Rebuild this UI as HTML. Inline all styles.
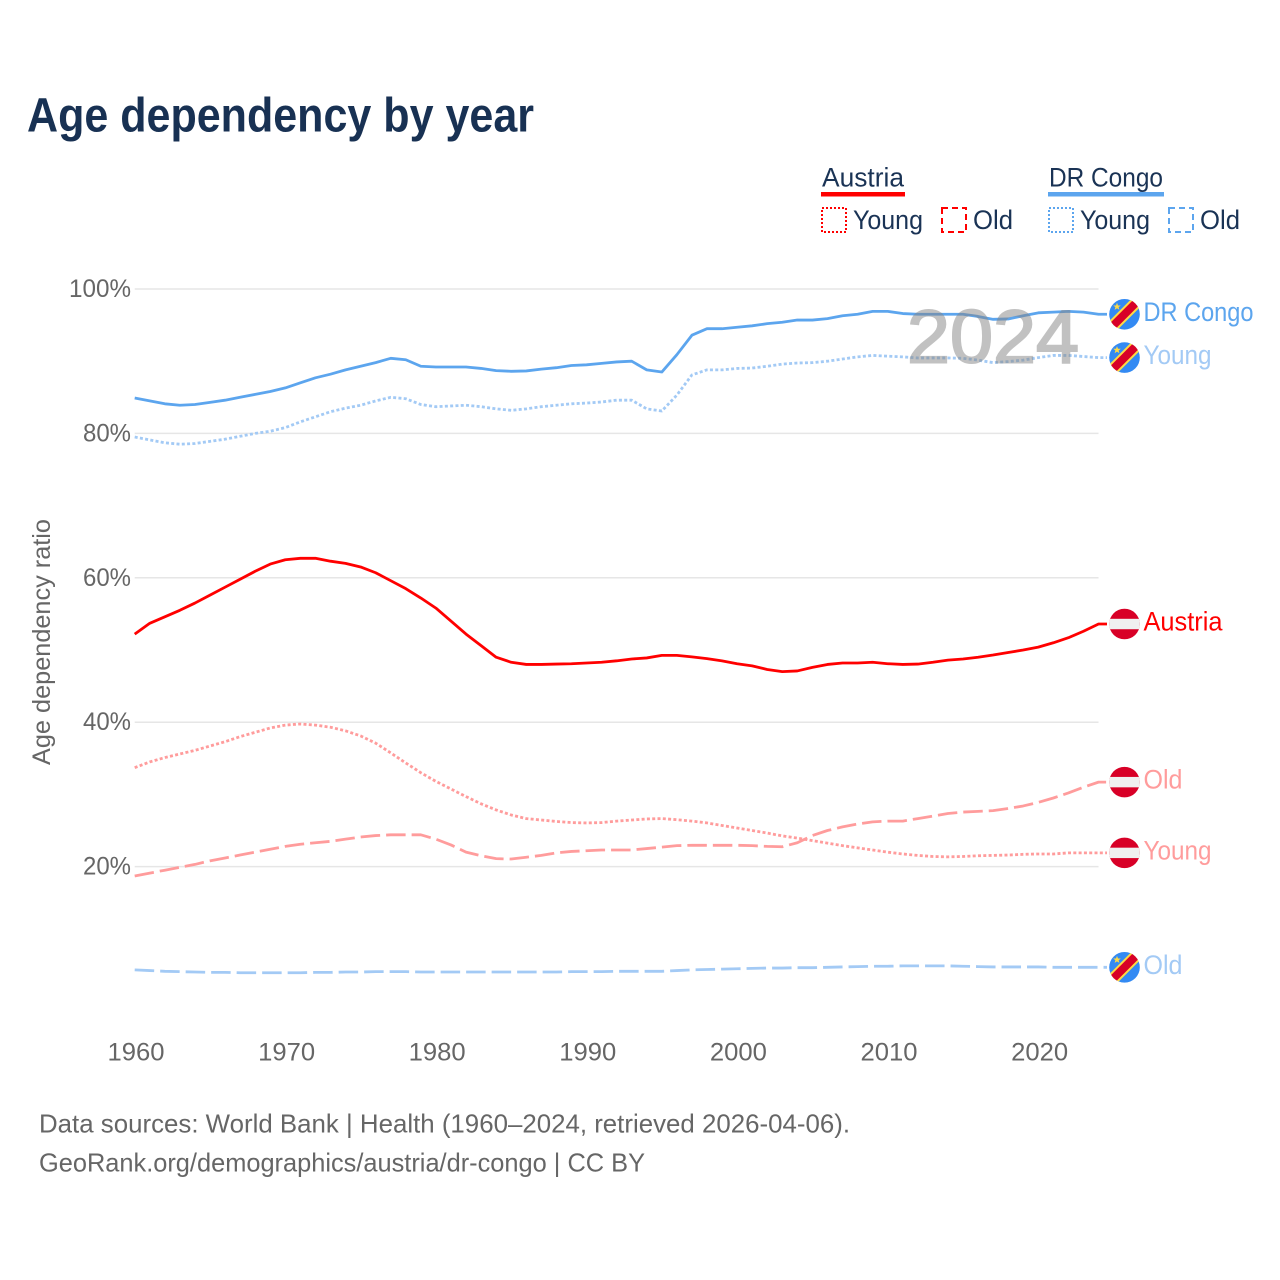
<!DOCTYPE html>
<html lang="en">
<head>
<meta charset="utf-8">
<title>Age dependency by year</title>
<style>
  html, body { margin: 0; padding: 0; background: #fff; }
  svg { display: block; font-family: "Liberation Sans", sans-serif; }
</style>
</head>
<body>
<svg id="chart" xmlns="http://www.w3.org/2000/svg" width="1280" height="1280" viewBox="0 0 1280 1280">
  <defs>
    <clipPath id="flag-clip"><circle cx="0" cy="0" r="15.3"/></clipPath>
    <g id="flag-austria" clip-path="url(#flag-clip)">
      <rect x="-16" y="-16" width="32" height="32" fill="#d80027"/>
      <rect x="-16" y="-5.2" width="32" height="10.4" fill="#f0f0f0"/>
    </g>
    <g id="flag-congo" clip-path="url(#flag-clip)">
      <rect x="-16" y="-16" width="32" height="32" fill="#338af3"/>
      <line x1="-16" y1="16" x2="16" y2="-16" stroke="#ffda44" stroke-width="12"/>
      <line x1="-16" y1="16" x2="16" y2="-16" stroke="#d80027" stroke-width="8"/>
      <polygon points="-7.5,-11.5 -6.5,-8.8 -3.7,-8.8 -5.9,-7.1 -5.1,-4.4 -7.5,-6 -9.9,-4.4 -9.1,-7.1 -11.3,-8.8 -8.5,-8.8" fill="#ffda44"/>
    </g>
  </defs>

  <rect x="0" y="0" width="1280" height="1280" fill="#fff"/>

  <text x="27" y="131.5" font-size="48" font-weight="700" fill="#183153" textLength="507" lengthAdjust="spacingAndGlyphs">Age dependency by year</text>

  <g font-size="26.5" fill="#1a3355">
    <g>
      <text x="822" y="186.5" textLength="82" lengthAdjust="spacingAndGlyphs">Austria</text>
      <rect x="821" y="192" width="84" height="4.5" fill="#ff0000"/>
      <rect x="822" y="208" width="24" height="24" fill="none" stroke="#ff0000" stroke-width="2" stroke-dasharray="2 2"/>
      <text x="853" y="229" textLength="70" lengthAdjust="spacingAndGlyphs">Young</text>
      <rect x="942" y="208" width="24" height="24" fill="none" stroke="#ff0000" stroke-width="2" stroke-dasharray="6 4"/>
      <text x="973" y="229" textLength="40" lengthAdjust="spacingAndGlyphs">Old</text>
    </g>
    <g>
      <text x="1049" y="186.5" textLength="114" lengthAdjust="spacingAndGlyphs">DR Congo</text>
      <rect x="1048" y="192" width="116" height="4.5" fill="#5ca5ee"/>
      <rect x="1049" y="208" width="24" height="24" fill="none" stroke="#5ca5ee" stroke-width="2" stroke-dasharray="2 2"/>
      <text x="1080" y="229" textLength="70" lengthAdjust="spacingAndGlyphs">Young</text>
      <rect x="1169" y="208" width="24" height="24" fill="none" stroke="#5ca5ee" stroke-width="2" stroke-dasharray="6 4"/>
      <text x="1200" y="229" textLength="40" lengthAdjust="spacingAndGlyphs">Old</text>
    </g>
  </g>

  <g id="grid"></g>
  <g id="y-axis"></g>
  <g id="x-axis"></g>
  <text transform="translate(50,642) rotate(-90)" text-anchor="middle" font-size="25" fill="#666" textLength="246" lengthAdjust="spacingAndGlyphs">Age dependency ratio</text>
  <g id="series"></g>
  <text x="907" y="362.5" font-size="75" fill="#858585" stroke="#858585" stroke-width="2" opacity="0.5" textLength="172" lengthAdjust="spacingAndGlyphs">2024</text>
  <g id="end-labels"></g>

  <g font-size="26" fill="#666">
    <text x="39" y="1132.5" textLength="811" lengthAdjust="spacingAndGlyphs">Data sources: World Bank | Health (1960–2024, retrieved 2026-04-06).</text>
    <text x="39" y="1171.5" textLength="606" lengthAdjust="spacingAndGlyphs">GeoRank.org/demographics/austria/dr-congo | CC BY</text>
  </g>
</svg>

<script>
const startYear = 1960;
const yearTicks = [1960, 1970, 1980, 1990, 2000, 2010, 2020];
const percentTicks = [20, 40, 60, 80, 100];

const congoTotal = [84.9,84.5,84.1,83.9,84.0,84.3,84.6,85.0,85.4,85.8,86.3,87.0,87.7,88.2,88.8,89.3,89.8,90.4,90.2,89.3,89.2,89.2,89.2,89.0,88.7,88.6,88.65,88.9,89.1,89.4,89.5,89.7,89.9,90.0,88.8,88.5,90.9,93.6,94.5,94.5,94.7,94.9,95.2,95.4,95.7,95.7,95.9,96.3,96.5,96.9,96.9,96.6,96.5,96.5,96.5,96.5,96.2,95.8,95.85,96.3,96.7,96.8,96.9,96.8,96.5];
const congoYoung = [79.5,79.1,78.7,78.5,78.6,78.9,79.2,79.6,80.0,80.3,80.8,81.6,82.3,83.0,83.5,83.9,84.5,85.0,84.8,84.0,83.7,83.8,83.9,83.7,83.4,83.2,83.4,83.7,83.9,84.1,84.2,84.35,84.6,84.6,83.4,83.1,85.3,88.1,88.8,88.8,89.0,89.05,89.3,89.6,89.75,89.8,90.0,90.3,90.6,90.8,90.7,90.6,90.45,90.45,90.45,90.4,90.15,89.8,89.95,90.15,90.5,90.8,90.8,90.65,90.5];
const congoOld = [5.7,5.6,5.5,5.45,5.4,5.35,5.35,5.3,5.3,5.3,5.3,5.3,5.35,5.35,5.4,5.4,5.45,5.45,5.45,5.4,5.4,5.4,5.4,5.4,5.4,5.4,5.4,5.4,5.4,5.45,5.45,5.45,5.5,5.5,5.5,5.5,5.6,5.7,5.75,5.8,5.85,5.9,5.95,5.95,6.0,6.0,6.05,6.1,6.15,6.2,6.2,6.25,6.25,6.25,6.25,6.2,6.15,6.1,6.1,6.1,6.1,6.05,6.05,6.05,6.05];
const austriaTotal = [52.2,53.7,54.6,55.5,56.5,57.6,58.7,59.8,60.9,61.9,62.5,62.7,62.7,62.3,62.0,61.5,60.7,59.6,58.5,57.2,55.8,54.0,52.2,50.6,49.0,48.3,48.0,48.0,48.05,48.1,48.2,48.3,48.5,48.75,48.9,49.25,49.25,49.05,48.8,48.5,48.1,47.8,47.3,47.0,47.1,47.6,48.0,48.2,48.2,48.3,48.1,48.0,48.05,48.3,48.6,48.75,49.0,49.3,49.65,50.0,50.4,51.0,51.7,52.6,53.6];
const austriaYoung = [33.7,34.5,35.1,35.6,36.1,36.7,37.3,38.0,38.6,39.2,39.6,39.75,39.6,39.3,38.8,38.1,37.1,35.75,34.35,33.0,31.8,30.75,29.7,28.7,27.85,27.15,26.65,26.45,26.25,26.1,26.05,26.1,26.3,26.45,26.6,26.65,26.5,26.3,26.05,25.7,25.35,25.0,24.65,24.25,23.95,23.6,23.25,22.9,22.6,22.3,22.0,21.75,21.55,21.4,21.35,21.4,21.5,21.55,21.6,21.7,21.75,21.75,21.9,21.9,21.9];
const austriaOld = [18.7,19.1,19.5,19.9,20.3,20.8,21.2,21.6,22.0,22.4,22.8,23.1,23.3,23.5,23.8,24.1,24.3,24.4,24.4,24.4,23.8,23.0,22.0,21.5,21.1,21.05,21.3,21.55,21.9,22.1,22.2,22.3,22.3,22.3,22.5,22.7,22.9,22.95,22.95,22.95,22.95,22.9,22.8,22.75,23.3,24.3,25.0,25.5,25.9,26.2,26.3,26.3,26.65,27.0,27.35,27.55,27.65,27.75,28.05,28.4,28.9,29.5,30.2,31.0,31.7];

const NS = 'http://www.w3.org/2000/svg';
const xScale = function (year) { return 134.7 + (year - 1960) * 15.06; };
const yScale = function (value) { return 289 + (100 - value) * 7.22; };
const plotLeft = xScale(1960);
const plotRight = xScale(2024);
const connectorEnd = 1107;
const tickLabelShift = 1.3;

function make(tag, attrs, parent, text) {
  const el = document.createElementNS(NS, tag);
  for (const k in attrs) el.setAttribute(k, attrs[k]);
  if (text !== undefined) el.textContent = text;
  parent.appendChild(el);
  return el;
}

const grid = document.getElementById('grid');
const yAxis = document.getElementById('y-axis');
const xAxis = document.getElementById('x-axis');
const seriesLayer = document.getElementById('series');
const endLayer = document.getElementById('end-labels');

percentTicks.forEach(function (t) {
  const line = make('line', { x1: plotLeft, x2: plotRight, y1: yScale(t), y2: yScale(t), stroke: '#e6e6e6', 'stroke-width': 1.5 }, grid);
  
  
  const label = make('text', { x: 131, y: yScale(t) + 8, 'text-anchor': 'end', 'font-size': 25, fill: '#666', textLength: t === 100 ? 62 : 48, lengthAdjust: 'spacingAndGlyphs' }, yAxis, t + '%');
  
  
});

yearTicks.forEach(function (y) {
  const label = make('text', { x: xScale(y) + tickLabelShift, y: 1060.5, 'text-anchor': 'middle', 'font-size': 25, fill: '#666', textLength: 57, lengthAdjust: 'spacingAndGlyphs' }, xAxis, String(y));
  
  
});

function drawSeries(name, values, color, dash, width) {
  let d = '';
  values.forEach(function (v, i) {
    d += (i === 0 ? 'M' : 'L') + xScale(startYear + i).toFixed(2) + ' ' + yScale(v).toFixed(2);
  });
  const lastY = yScale(values[values.length - 1]);
  d += 'L' + connectorEnd + ' ' + lastY.toFixed(2);
  const attrs = { d: d, fill: 'none', stroke: color, 'stroke-width': width, 'stroke-linejoin': 'round' };
  if (dash) attrs['stroke-dasharray'] = dash;
  const path = make('path', attrs, seriesLayer);
  
  
}

drawSeries('austria-old', austriaOld, '#ff9c9c', '19.5 6', 2.8);
drawSeries('austria-young', austriaYoung, '#ff9c9c', '3 2.3', 2.8);
drawSeries('austria-total', austriaTotal, '#ff0000', null, 2.8);
drawSeries('congo-old', congoOld, '#a3caf5', '19.5 6', 2.8);
drawSeries('congo-young', congoYoung, '#a3caf5', '3 2.3', 2.8);
drawSeries('congo-total', congoTotal, '#5ca5ee', null, 2.8);

function drawEndLabel(name, values, flag, text, color, textWidth) {
  const cy = yScale(values[values.length - 1]);
  const f = make('use', { href: '#' + flag, transform: 'translate(1124.5,' + cy.toFixed(2) + ')' }, endLayer);
  
  
  const t = make('text', { x: 1143.5, y: cy + 6.5, 'font-size': 26.5, fill: color, textLength: textWidth, lengthAdjust: 'spacingAndGlyphs' }, endLayer, text);
  
  
}

drawEndLabel('congo-total', congoTotal, 'flag-congo', 'DR Congo', '#5ca5ee', 110);
drawEndLabel('congo-young', congoYoung, 'flag-congo', 'Young', '#a3caf5', 68);
drawEndLabel('austria-total', austriaTotal, 'flag-austria', 'Austria', '#ff0000', 79);
drawEndLabel('austria-old', austriaOld, 'flag-austria', 'Old', '#ff9c9c', 39);
drawEndLabel('austria-young', austriaYoung, 'flag-austria', 'Young', '#ff9c9c', 68);
drawEndLabel('congo-old', congoOld, 'flag-congo', 'Old', '#a3caf5', 39);
</script>
</body>
</html>
